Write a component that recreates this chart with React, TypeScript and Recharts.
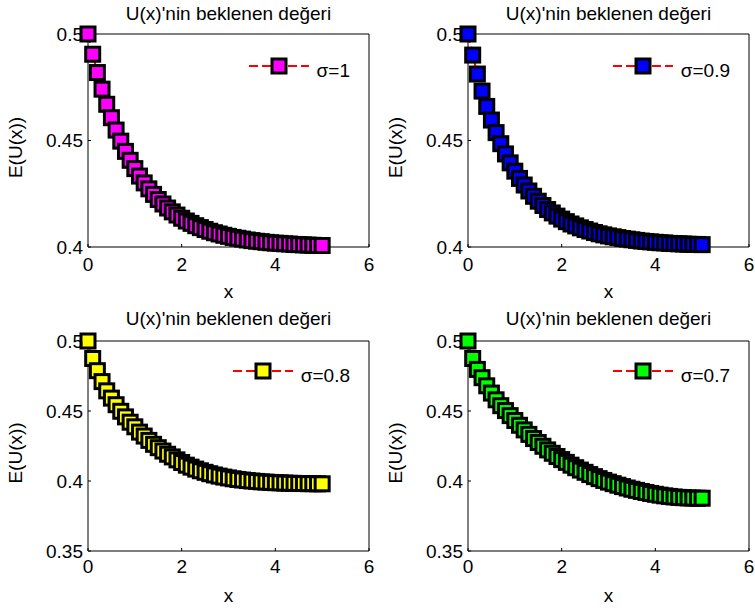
import { Legend, Line, LineChart, XAxis, YAxis } from "recharts";

const X_VALUES = [
  0, 0.1, 0.2, 0.3, 0.4, 0.5, 0.6, 0.7, 0.8, 0.9, 1, 1.1, 1.2, 1.3, 1.4, 1.5, 1.6, 1.7, 1.8, 1.9, 2, 2.1, 2.2, 2.3,
  2.4, 2.5, 2.6, 2.7, 2.8, 2.9, 3, 3.1, 3.2, 3.3, 3.4, 3.5, 3.6, 3.7, 3.8, 3.9, 4, 4.1, 4.2, 4.3, 4.4, 4.5, 4.6,
  4.7, 4.8, 4.9, 5
];

const SIGMA_1 = [
  0.5, 0.4905, 0.4819, 0.4741, 0.467, 0.4607, 0.4549, 0.4497, 0.4449, 0.4407, 0.4368, 0.4333, 0.4301, 0.4273,
  0.4247, 0.4223, 0.4202, 0.4183, 0.4165, 0.415, 0.4135, 0.4122, 0.4111, 0.41, 0.4091, 0.4082, 0.4074, 0.4067,
  0.4061, 0.4055, 0.405, 0.4045, 0.4041, 0.4037, 0.4033, 0.403, 0.4027, 0.4025, 0.4022, 0.402, 0.4018, 0.4017,
  0.4015, 0.4014, 0.4012, 0.4011, 0.401, 0.4009, 0.4008, 0.4007, 0.4007
];

const SIGMA_09 = [
  0.5, 0.4901, 0.4812, 0.4732, 0.466, 0.4596, 0.4537, 0.4485, 0.4437, 0.4395, 0.4356, 0.4322, 0.4291, 0.4263,
  0.4238, 0.4215, 0.4195, 0.4176, 0.416, 0.4145, 0.4131, 0.4119, 0.4108, 0.4099, 0.409, 0.4082, 0.4075, 0.4068,
  0.4062, 0.4057, 0.4052, 0.4048, 0.4044, 0.404, 0.4037, 0.4034, 0.4031, 0.4028, 0.4026, 0.4024, 0.4022, 0.402,
  0.4019, 0.4017, 0.4016, 0.4015, 0.4014, 0.4013, 0.4012, 0.4012, 0.4011
];

const SIGMA_08 = [
  0.5, 0.4875, 0.4788, 0.471, 0.4644, 0.4592, 0.4545, 0.4498, 0.4458, 0.442, 0.4387, 0.4349, 0.4321, 0.429,
  0.4262, 0.4238, 0.4214, 0.4191, 0.4172, 0.4151, 0.4132, 0.4113, 0.4099, 0.4085, 0.4073, 0.4062, 0.4052, 0.4043,
  0.4035, 0.4028, 0.4022, 0.4016, 0.4011, 0.4007, 0.4003, 0.4, 0.3997, 0.3994, 0.3992, 0.399, 0.3988, 0.3987,
  0.3985, 0.3984, 0.3983, 0.3982, 0.3982, 0.3981, 0.3981, 0.398, 0.398
];

const SIGMA_07 = [
  0.5, 0.4875, 0.4797, 0.4738, 0.468, 0.4628, 0.458, 0.4538, 0.4503, 0.4467, 0.4432, 0.4398, 0.4365, 0.4333,
  0.4303, 0.4275, 0.4248, 0.4222, 0.4198, 0.4175, 0.4153, 0.4133, 0.4113, 0.4095, 0.4078, 0.4062, 0.4046, 0.4031,
  0.4017, 0.4004, 0.3992, 0.3981, 0.397, 0.396, 0.395, 0.3941, 0.3933, 0.3925, 0.3918, 0.3911, 0.3905, 0.3899,
  0.3894, 0.389, 0.3886, 0.3883, 0.3881, 0.3879, 0.3878, 0.3877, 0.3877
];

const X_TICKS = [0, 2, 4, 6];
const Y_TICKS_TOP = [0.4, 0.45, 0.5];
const Y_TICKS_BOTTOM = [0.35, 0.4, 0.45, 0.5];

const TITLE = "U(x)'nin beklenen değeri";
const FONT = "'Liberation Sans', Arial, sans-serif";
const FONT_SIZE = 19;
const AXIS_COLOR = "#000";

const toRows = (values: number[]) => X_VALUES.map((x, i) => ({ x, y: values[i] }));

const squareDot = (fill: string) => (props: any) => {
  const { cx, cy, index } = props;
  if (cx == null || cy == null) return <g key={index} />;
  return (
    <rect key={index} x={cx - 7} y={cy - 7} width={14} height={14} fill={fill} stroke="#000" strokeWidth={3} />
  );
};

function LegendBox({ fill, label }: { fill: string; label: string }) {
  return (
    <div style={{ display: "flex", alignItems: "center", fontFamily: FONT, fontSize: FONT_SIZE, color: "#000" }}>
      <svg width={60} height={20}>
        <line x1={0} y1={10} x2={60} y2={10} stroke="#ff0000" strokeWidth={2} strokeDasharray="9 4" />
        <rect x={23} y={3} width={14} height={14} fill={fill} stroke="#000" strokeWidth={3} />
      </svg>
      <span style={{ marginLeft: 8, position: "relative", top: 5 }}>{label}</span>
    </div>
  );
}

const yLabel = (props: any) => {
  const vb = props.viewBox || {};
  const cx = 15;
  const cy = (vb.y ?? 0) + (vb.height ?? 0) / 2 + 7;
  return (
    <text
      x={cx}
      y={cy}
      transform={`rotate(-90, ${cx}, ${cy})`}
      textAnchor="middle"
      dominantBaseline="central"
      fill="#000"
      fontSize={FONT_SIZE}
      fontFamily={FONT}
    >
      E(U(x))
    </text>
  );
};

type PanelProps = {
  values: number[];
  fill: string;
  label: string;
  yDomain: [number, number];
  yTicks: number[];
  left: number;
  top: number;
  marginTop: number;
  xAxisHeight: number;
  tickGap: number;
  titleOffset: number;
  xLabelOffset: number;
  legendTop: number;
};

function Panel(p: PanelProps) {
  const tickStyle = { fill: "#000", fontSize: FONT_SIZE, fontFamily: FONT };
  return (
    <div style={{ position: "absolute", left: p.left, top: p.top }}>
      <LineChart
        width={375}
        height={306}
        data={toRows(p.values)}
        margin={{ top: p.marginTop, right: 5, bottom: 0, left: 0 }}
      >
        <XAxis
          dataKey="x"
          type="number"
          domain={[0, 6]}
          ticks={X_TICKS}
          height={p.xAxisHeight}
          tickSize={-3}
          tickMargin={p.tickGap}
          tick={tickStyle}
          stroke={AXIS_COLOR}
          label={{ value: "x", position: "insideBottom", offset: p.xLabelOffset, style: tickStyle }}
        />
        <XAxis
          xAxisId="top"
          orientation="top"
          type="number"
          domain={[0, 6]}
          ticks={X_TICKS}
          height={1}
          tickSize={-3}
          tick={false}
          stroke={AXIS_COLOR}
          label={{ value: TITLE, position: "top", offset: p.titleOffset, style: tickStyle }}
        />
        <YAxis
          type="number"
          domain={p.yDomain}
          ticks={p.yTicks}
          width={88}
          tickSize={-3}
          tickMargin={8}
          tick={tickStyle}
          stroke={AXIS_COLOR}
          tickFormatter={(v: number) => String(v)}
          label={yLabel}
        />
        <YAxis
          yAxisId="right"
          orientation="right"
          type="number"
          domain={p.yDomain}
          ticks={p.yTicks}
          width={1}
          tickSize={-3}
          tick={false}
          stroke={AXIS_COLOR}
        />
        <Legend
          layout="horizontal"
          verticalAlign="middle"
          align="center"
          wrapperStyle={{ top: p.legendTop, right: 25, left: "auto", width: "auto" }}
          content={() => <LegendBox fill={p.fill} label={p.label} />}
        />
        <Line
          dataKey="y"
          name={p.label}
          type="linear"
          stroke="#ff0000"
          strokeWidth={2}
          strokeDasharray="9 4"
          dot={squareDot(p.fill)}
          activeDot={false}
          isAnimationActive={false}
        />
      </LineChart>
    </div>
  );
}

export default function App() {
  return (
    <div
      style={{
        position: "absolute",
        left: 0,
        top: 0,
        width: 755,
        height: 612,
        overflow: "hidden",
        background: "#fff"
      }}
    >
      <Panel
        values={SIGMA_1}
        fill="#ff00ff"
        label="σ=1"
        yDomain={[0.4, 0.5]}
        yTicks={Y_TICKS_TOP}
        left={0}
        top={0}
        marginTop={33}
        xAxisHeight={59}
        tickGap={14}
        titleOffset={13}
        xLabelOffset={8}
        legendTop={55}
      />
      <Panel
        values={SIGMA_09}
        fill="#0000ff"
        label="σ=0.9"
        yDomain={[0.4, 0.5]}
        yTicks={Y_TICKS_TOP}
        left={380}
        top={0}
        marginTop={33}
        xAxisHeight={59}
        tickGap={14}
        titleOffset={13}
        xLabelOffset={8}
        legendTop={55}
      />
      <Panel
        values={SIGMA_08}
        fill="#ffff00"
        label="σ=0.8"
        yDomain={[0.35, 0.5]}
        yTicks={Y_TICKS_BOTTOM}
        left={0}
        top={306}
        marginTop={34}
        xAxisHeight={61}
        tickGap={12}
        titleOffset={15}
        xLabelOffset={10}
        legendTop={54}
      />
      <Panel
        values={SIGMA_07}
        fill="#00ff00"
        label="σ=0.7"
        yDomain={[0.35, 0.5]}
        yTicks={Y_TICKS_BOTTOM}
        left={380}
        top={306}
        marginTop={34}
        xAxisHeight={61}
        tickGap={12}
        titleOffset={15}
        xLabelOffset={10}
        legendTop={54}
      />
    </div>
  );
}
